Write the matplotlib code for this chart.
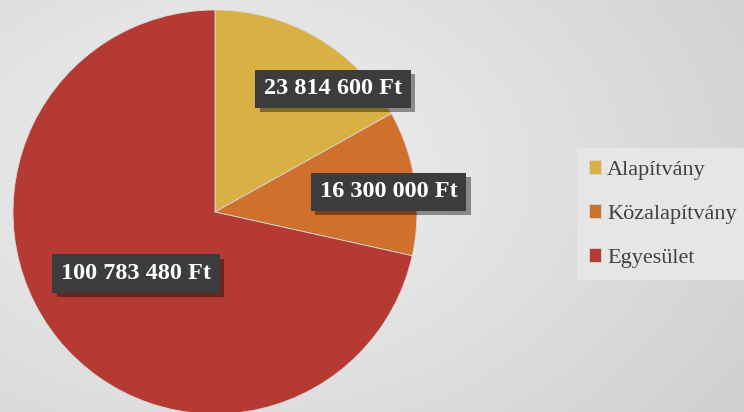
import numpy as np
import matplotlib
matplotlib.use("Agg")
import matplotlib.pyplot as plt
import matplotlib.patheffects as pe

categories = ["Alapítvány", "Közalapítvány", "Egyesület"]
values = [23814600, 16300000, 100783480]
value_labels = ["23 814 600 Ft", "16 300 000 Ft", "100 783 480 Ft"]
colors = ["#D9B044", "#D0702D", "#B43A33"]
# label anchor positions in pie units (relative to centre, radius = 1)
label_pos = [(0.585, 0.61), (0.86, 0.10), (-0.39, -0.305)]

W, H = 744, 412
fig = plt.figure(figsize=(W / 100, H / 100), dpi=100)

# background radial gradient
bg = fig.add_axes([0, 0, 1, 1])
yy, xx = np.mgrid[0:H, 0:W]
d = np.sqrt(((xx - 230) / 620.0) ** 2 + ((yy - 170) / 420.0) ** 2)
shade = 0.945 - 0.13 * np.clip(d, 0, 1.2)
bg.imshow(np.dstack([shade] * 3), extent=[0, 1, 0, 1], aspect="auto", origin="upper")
bg.axis("off")

cx, cy, r = 215, 212, 202
ax = fig.add_axes([(cx - r) / W, (H - cy - r) / H, 2 * r / W, 2 * r / H])
wedges, _ = ax.pie(values, colors=colors, startangle=90, counterclock=False,
                   radius=1, wedgeprops=dict(linewidth=0.6, edgecolor="#d8d8d8"))
ax.set_xlim(-1, 1)
ax.set_ylim(-1, 1)
ax.set_aspect("equal")
ax.axis("off")

for (px, py), txt in zip(label_pos, value_labels):
    t = ax.text(px, py, txt, ha="center", va="center", color="white",
                fontsize=17.5, fontweight="bold", family="Liberation Serif",
                bbox=dict(boxstyle="square,pad=0.36", facecolor="#3c3c3c", edgecolor="none"),
                zorder=5)
    t.get_bbox_patch().set_path_effects([
        pe.SimplePatchShadow(offset=(3, -3), shadow_rgbFace="black", alpha=0.4),
        pe.Normal()])

leg = fig.legend(wedges, categories, loc="upper left",
                 bbox_to_anchor=(577 / W, 1 - 148 / H),
                 frameon=True, fancybox=False, facecolor="#e6e6e6", edgecolor="none",
                 framealpha=1, prop={"family": "Liberation Serif", "size": 16},
                 handlelength=0.55, handleheight=0.55, handletextpad=0.25,
                 labelspacing=1.1, borderpad=0.55, borderaxespad=0)
for txt in leg.get_texts():
    txt.set_color("#404040")

fig.savefig("out.png", dpi=100)
